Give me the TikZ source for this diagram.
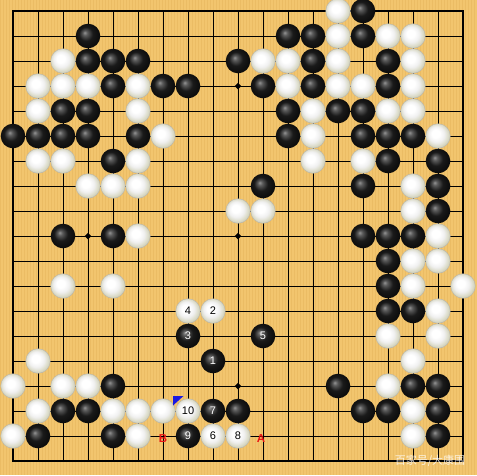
\documentclass[tikz,border=0pt]{standalone}
\usepackage{fontspec}
\setsansfont{Liberation Sans}
\newfontfamily\cjkfont{Noto Sans CJK SC}
\definecolor{boardcol}{RGB}{242,197,110}
\definecolor{stripecol}{RGB}{224,172,82}
\definecolor{markblue}{RGB}{25,25,225}
\definecolor{labelred}{RGB}{235,20,20}
\pgfdeclareradialshading{blackstone}{\pgfpoint{-7bp}{7bp}}{color(0bp)=(black!42); color(5bp)=(black!65); color(14bp)=(black!90); color(36bp)=(black)}
\pgfdeclareradialshading{whitestone}{\pgfpoint{-6bp}{6bp}}{color(0bp)=(white); color(8bp)=(white); color(16bp)=(white!94!black); color(23bp)=(white!84!black!92!yellow); color(29bp)=(white!72!black!90!yellow); color(36bp)=(white!64!black)}
\begin{document}
\begin{tikzpicture}[x=25pt,y=-25pt,
  stripe/.style={stripecol, opacity=0.35, line width=0.5pt},
  gridline/.style={black, line width=0.8pt},
  stone/.style={circle, minimum size=24.6pt, inner sep=0pt, font=\sffamily\fontsize{11}{13}\selectfont},
  bstone/.style={stone, shading=blackstone, text=white},
  wstone/.style={stone, shading=whitestone, draw=black!30, line width=0.3pt, text=black},
  lettermark/.style={text=labelred, inner sep=0pt, font=\sffamily\bfseries\fontsize{11.5}{13}\selectfont},
  watermark/.style={text=white, opacity=0.8, inner sep=0pt, font=\cjkfont\fontsize{11}{13}\selectfont}]
\useasboundingbox (-0.52,-0.44) rectangle (18.56,18.56);
\fill[boardcol] (-0.52,-0.44) rectangle (18.56,18.56);
\foreach \i in {0,...,158} {\draw[stripe] (-0.50+\i*0.12,-0.44) -- ++(0,19);}
% grid
\foreach \i in {0,...,18} {
  \draw[gridline] (\i,0) -- (\i,18);
  \draw[gridline] (0,\i) -- (18,\i);
}
\draw[black, line width=1.6pt] (0,0) rectangle (18,18);
% star points
\foreach \c in {3,9,15} \foreach \r in {3,9,15} {
  \fill (\c,\r) +(-0.13,0) -- +(0,-0.13) -- +(0.13,0) -- +(0,0.13) -- cycle;
}
% black stones
\foreach \c/\r in {14/0,
  3/1,11/1,12/1,14/1,
  3/2,4/2,5/2,9/2,12/2,15/2,
  4/3,6/3,7/3,10/3,12/3,15/3,
  2/4,3/4,11/4,13/4,14/4,
  0/5,1/5,2/5,3/5,5/5,11/5,14/5,15/5,16/5,
  4/6,15/6,17/6,
  10/7,14/7,17/7,
  17/8,
  2/9,4/9,14/9,15/9,16/9,
  15/10, 15/11, 15/12,16/12,
  4/15,13/15,16/15,17/15,
  2/16,3/16,9/16,14/16,15/16,17/16,
  1/17,4/17,17/17}
  {\node[bstone] (b-\c-\r) at (\c,\r) {};}
% white stones
\foreach \c/\r in {13/0,
  13/1,15/1,16/1,
  2/2,10/2,11/2,13/2,16/2,
  1/3,2/3,3/3,5/3,11/3,13/3,14/3,16/3,
  1/4,5/4,12/4,15/4,16/4,
  6/5,12/5,17/5,
  1/6,2/6,5/6,12/6,14/6,
  3/7,4/7,5/7,16/7,
  9/8,10/8,16/8,
  5/9,17/9,
  16/10,17/10,
  2/11,4/11,16/11,18/11,
  17/12,
  15/13,17/13,
  1/14,16/14,
  0/15,2/15,3/15,15/15,
  1/16,4/16,5/16,6/16,16/16,
  0/17,5/17,16/17}
  {\node[wstone] (w-\c-\r) at (\c,\r) {};}
% numbered moves
\node[bstone] (m1) at (8,14) {1};
\node[wstone] (m2) at (8,12) {2};
\node[bstone] (m3) at (7,13) {3};
\node[wstone] (m4) at (7,12) {4};
\node[bstone] (m5) at (10,13) {5};
\node[wstone] (m6) at (8,17) {6};
\node[bstone] (m7) at (8,16) {7};
\node[wstone] (m8) at (9,17) {8};
\node[bstone] (m9) at (7,17) {9};
\node[wstone] (m10) at (7,16) {10};
% last-move mark
\fill[markblue] (6.4,15.4) -- (6.82,15.4) -- (6.4,15.78) -- cycle;
% letters
\node[lettermark] (lblB) at (6,17.1) {B};
\node[lettermark] (lblA) at (9.92,17.1) {A};
% watermark
\node[watermark] (wm) at (16.68,18.0) {百家号/大康围};
\end{tikzpicture}
\end{document}
